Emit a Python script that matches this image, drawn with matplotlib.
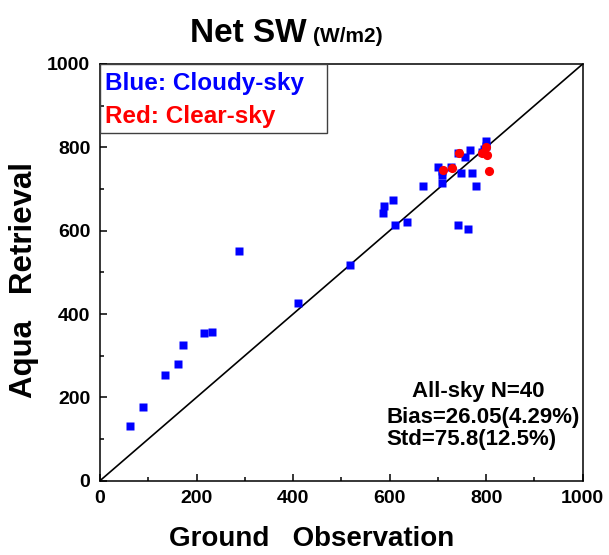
import matplotlib
matplotlib.use('Agg')
import matplotlib.pyplot as plt
from matplotlib.ticker import MultipleLocator
from matplotlib.transforms import offset_copy

plt.rcParams['font.family'] = ['Liberation Sans', 'DejaVu Sans']
plt.rcParams['font.weight'] = 'bold'

# cloudy-sky samples (ground observation, aqua retrieval), W/m2
cloudy_obs = [62, 90, 134, 162, 171, 215, 233, 289, 410, 517, 587, 589, 607,
              611, 637, 669, 701, 709, 709, 742, 762, 748, 770, 756, 766, 780,
              799, 742, 791, 728, 709, 799, 795]
cloudy_ret = [132, 176, 254, 280, 326, 354, 357, 552, 426, 518, 643, 659, 674,
              614, 620, 706, 752, 734, 715, 614, 603, 738, 738, 777, 793, 706,
              815, 786, 788, 752, 742, 804, 795]

# clear-sky samples
clear_obs = [710, 729, 744, 792, 799, 801, 805]
clear_ret = [746, 751, 786, 786, 800, 782, 744]

stats_lines = ['All-sky N=40', 'Bias=26.05(4.29%)', 'Std=75.8(12.5%)']

fig = plt.figure(figsize=(6.09, 5.55), dpi=100)
ax = fig.add_axes([0.1642, 0.1339, 0.7926, 0.7508])

ax.plot([0, 1000], [0, 1000], color='black', lw=1.2, zorder=2)
ax.plot(cloudy_obs, cloudy_ret, 's', color='#0000ff', ms=5.8, mec='none', zorder=3)
ax.plot(clear_obs, clear_ret, 'o', color='#ff0000', ms=6.6, mec='none', zorder=4)

ax.set_xlim(0, 1000)
ax.set_ylim(0, 1000)
ax.xaxis.set_major_locator(MultipleLocator(200))
ax.yaxis.set_major_locator(MultipleLocator(200))
ax.xaxis.set_minor_locator(MultipleLocator(100))
ax.yaxis.set_minor_locator(MultipleLocator(100))
ax.tick_params(which='both', direction='in', top=False, right=False, width=1.1)
ax.tick_params(which='major', length=5, pad=7, labelsize=14)
ax.tick_params(which='minor', length=3)
for sp in ax.spines.values():
    sp.set_linewidth(1.1)

# legend box drawn as text inside a framed rectangle
ax.add_patch(plt.Rectangle((0, 0.834), 0.47, 0.166, transform=ax.transAxes,
                           fill=False, ec='#404040', lw=1.0, zorder=5))
ax.text(0.011, 0.954, 'Blue: Cloudy-sky', transform=ax.transAxes, color='#0000ff',
        fontsize=17.5, fontweight='bold', va='center', ha='left')
ax.text(0.011, 0.874, 'Red: Clear-sky', transform=ax.transAxes, color='#ff0000',
        fontsize=17.5, fontweight='bold', va='center', ha='left')

ax.text(0.783, 0.213, stats_lines[0], transform=ax.transAxes, fontsize=16,
        fontweight='bold', ha='center', va='center')
ax.text(0.594, 0.151, stats_lines[1], transform=ax.transAxes, fontsize=16,
        fontweight='bold', ha='left', va='center')
ax.text(0.594, 0.098, stats_lines[2], transform=ax.transAxes, fontsize=16,
        fontweight='bold', ha='left', va='center')

# title with smaller units right after it
title = fig.text(190 / 609, 1 - 41.7 / 555, 'Net SW', fontsize=24,
                 fontweight='bold', ha='left', va='baseline')
fig.canvas.draw()
bb = title.get_window_extent()
fig.text(bb.x1 / fig.bbox.width, 1 - 41.7 / 555, '(W/m2)', fontsize=15,
         fontweight='bold', ha='left', va='baseline',
         transform=offset_copy(fig.transFigure, fig=fig, x=6, y=0, units='dots'))

fig.text(312 / 609, 1 - 546 / 555, 'Ground   Observation', fontsize=20,
         fontweight='bold', ha='center', va='baseline')
fig.text(24 / 609, 1 - 280 / 555, 'Aqua   Retrieval', fontsize=22.5,
         fontweight='bold', ha='center', va='center', rotation=90)

fig.savefig('out.png', dpi=100)
